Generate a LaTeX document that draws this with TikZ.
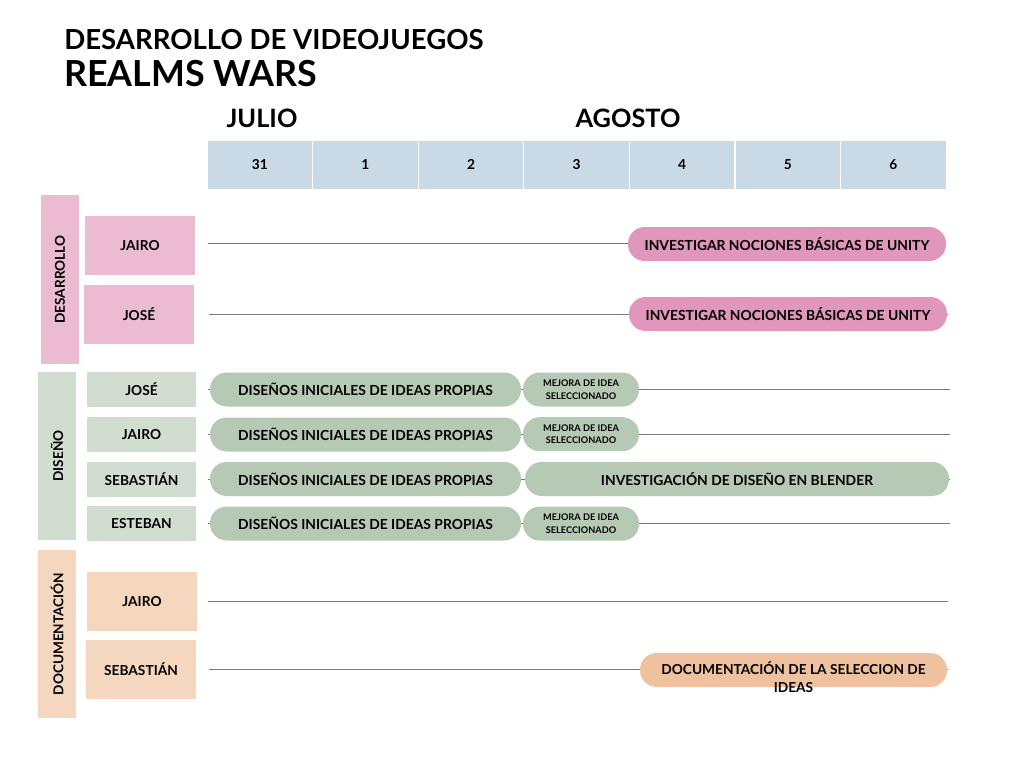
\documentclass[tikz,border=0pt]{standalone}
\usepackage{fontspec}
\setmainfont{Lato}
\usetikzlibrary{positioning}

\definecolor{hdrblue}{HTML}{C9DAE6}
\definecolor{pinklab}{HTML}{EBBBD2}
\definecolor{pinkbar}{HTML}{E097BB}
\definecolor{greenlab}{HTML}{D1DDD0}
\definecolor{greenbar}{HTML}{B6C9B4}
\definecolor{peachlab}{HTML}{F5D7C0}
\definecolor{peachbar}{HTML}{EFC19E}
\definecolor{rowgray}{HTML}{7A7A7A}

\begin{document}
\begin{tikzpicture}[x=0.75pt, y=-0.75pt, font=\bfseries,
    daycell/.style={fill=hdrblue, draw=white, line width=0.8pt, minimum width=79.2pt, minimum height=37.5pt, text height=7.4pt, text depth=0pt, font=\bfseries\fontsize{10.3}{12}\selectfont},
    grouplab/.style={minimum width=28.5pt, minimum height=126pt, inner sep=0pt},
    grouptxt/.style={rotate=90, font=\bfseries\fontsize{10.2}{11}\selectfont},
    person/.style={minimum width=82.5pt, minimum height=44.25pt, inner sep=0pt, font=\bfseries\fontsize{10.3}{11}\selectfont},
    personsm/.style={person, minimum width=81.75pt, minimum height=26.25pt},
    taskbar/.style={rounded corners=12.5pt, minimum height=25.5pt, inner sep=0pt, font=\bfseries\fontsize{10.4}{11}\selectfont},
    smallbar/.style={taskbar, minimum width=87pt, align=center, font=\bfseries\fontsize{6.9}{9.5}\selectfont},
    rowline/.style={draw=rowgray, line width=0.75pt}]
    \useasboundingbox (0,0) rectangle (1024,768);

    % Titles
    \node (title) at (64,40) [anchor=west, inner sep=0pt, font=\bfseries\fontsize{20.7}{22}\selectfont] {DESARROLLO DE VIDEOJUEGOS};
    \node (project) at (64,74) [anchor=west, inner sep=0pt, font=\bfseries\fontsize{26.9}{30}\selectfont] {REALMS WARS};

    % Months and days
    \node (julio) at (262,118) [font=\bfseries\fontsize{19}{22}\selectfont] {JULIO};
    \node (agosto) at (628,118) [font=\bfseries\fontsize{19}{22}\selectfont] {AGOSTO};
    \foreach \d [count=\i from 0] in {31,1,2,3,4,5,6}
        \node (day\i) at (259.8+105.6*\i,165) [daycell] {\d};

    % DESARROLLO
    \node (gDes) at (60,279.5) [grouplab, fill=pinklab, minimum height=126.75pt] {};
    \node at (gDes) [grouptxt] {DESARROLLO};
    \node (desJairo) at (140,245.5) [person, fill=pinklab] {JAIRO};
    \node (desJose) at (139,314) [person, fill=pinklab] {JOSÉ};
    \coordinate (desJairoA) at (208,243);
    \coordinate (desJairoB) at (946,243);
    \coordinate (desJoseA) at (209,314);
    \coordinate (desJoseB) at (948,314);
    \draw[rowline] (desJairoA) -- (desJairoB);
    \draw[rowline] (desJoseA) -- (desJoseB);
    \node (unity1) at (787,244) [taskbar, fill=pinkbar, minimum width=238.5pt] {INVESTIGAR NOCIONES BÁSICAS DE UNITY};
    \node (unity2) at (788,314) [taskbar, fill=pinkbar, minimum width=238.5pt] {INVESTIGAR NOCIONES BÁSICAS DE UNITY};

    % DISEÑO
    \node (gDis) at (57,456) [grouplab, fill=greenlab] {};
    \node at (gDis) [grouptxt] {DISEÑO};
    \foreach \who/\y [count=\i] in {JOSÉ/389.5, JAIRO/434.5, SEBASTIÁN/479, ESTEBAN/523.5} {
        \node (disP\i) at (141.5,\y) [personsm, fill=greenlab] {\who};
        \coordinate (disA\i) at (208,\y);
        \coordinate (disB\i) at (950,\y);
        \draw[rowline] (disA\i) -- (disB\i);
        \node (ideas\i) at (365.5,\y) [taskbar, fill=greenbar, minimum width=233.25pt] {DISEÑOS INICIALES DE IDEAS PROPIAS};
    }
    \foreach \i in {1,2,4}
        \node (mejora\i) at (581,{389.5+44.7*(\i-1)}) [smallbar, fill=greenbar] {MEJORA DE IDEA\\SELECCIONADO};
    \node (blender) at (737,479) [taskbar, fill=greenbar, minimum width=318pt] {INVESTIGACIÓN DE DISEÑO EN BLENDER};

    % DOCUMENTACION
    \node (gDoc) at (57,634) [grouplab, fill=peachlab] {};
    \node at (gDoc) [grouptxt] {DOCUMENTACIÓN};
    \node (docJairo) at (142,601.5) [person, fill=peachlab] {JAIRO};
    \node (docSeb) at (141,669.5) [person, fill=peachlab] {SEBASTIÁN};
    \coordinate (docJairoA) at (208,601);
    \coordinate (docJairoB) at (948,601);
    \coordinate (docSebA) at (209,669);
    \coordinate (docSebB) at (948,669);
    \draw[rowline] (docJairoA) -- (docJairoB);
    \draw[rowline] (docSebA) -- (docSebB);
    \node (docBar) at (793.5,670) [taskbar, fill=peachbar, minimum width=230.25pt] {};
    \node (docTxt) at (793.5,661) [anchor=north, inner sep=0pt, align=center, font=\bfseries\fontsize{10.3}{14}\selectfont] {DOCUMENTACIÓN DE LA SELECCION DE\\IDEAS};
\end{tikzpicture}
\end{document}
